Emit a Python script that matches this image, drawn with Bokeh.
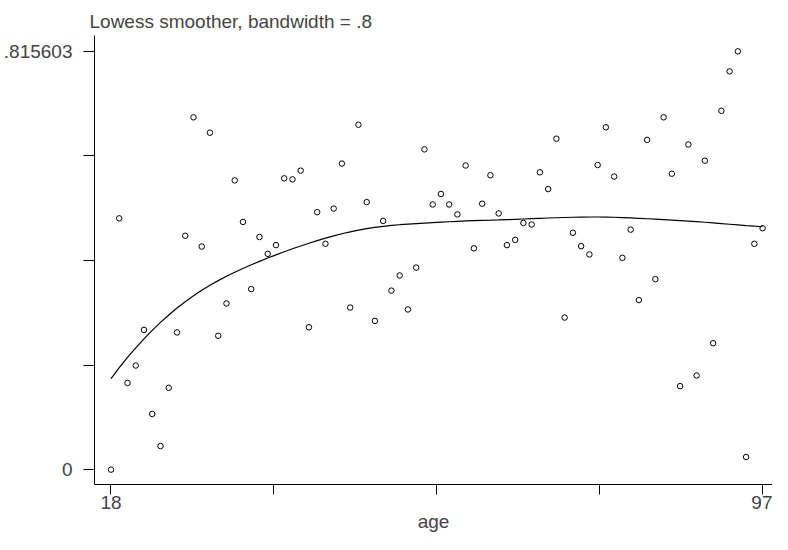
import numpy as np
from bokeh.plotting import figure
from bokeh.models import ColumnDataSource, FixedTicker, CustomJSTickFormatter, Range1d
from bokeh.embed import file_html
from bokeh.resources import INLINE

# ---- data ----
age = list(range(18, 98))
value = [
    0.000, 0.490, 0.169, 0.203, 0.2725, 0.1085, 0.046, 0.1596, 0.2675, 0.456,   # 18-27
    0.687, 0.435, 0.657, 0.261, 0.324, 0.564, 0.483, 0.352, 0.4536, 0.4207,     # 28-37
    0.4378, 0.568, 0.566, 0.583, 0.2776, 0.502, 0.4404, 0.509, 0.5968, 0.316,   # 38-47
    0.6725, 0.5217, 0.290, 0.485, 0.349, 0.3785, 0.3123, 0.394, 0.6245, 0.517,  # 48-57
    0.5375, 0.517, 0.4977, 0.593, 0.4315, 0.5185, 0.574, 0.4996, 0.4378, 0.448, # 58-67
    0.481, 0.478, 0.5797, 0.547, 0.6453, 0.2965, 0.4618, 0.4358, 0.4196, 0.594, # 68-77
    0.6675, 0.5715, 0.413, 0.468, 0.3306, 0.643, 0.3715, 0.687, 0.577, 0.1628,  # 78-87
    0.634, 0.1836, 0.6024, 0.2466, 0.6997, 0.7765, 0.815603, 0.0246, 0.4404, 0.4707,  # 88-97
]
Y_MAX = 0.815603
BANDWIDTH = 0.8
title_text = "Lowess smoother, bandwidth = .8"
x_label = "age"
x_ticks = [18, 37.75, 57.5, 77.25, 97]
x_tick_labels = ["18", "", "", "", "97"]
y_ticks = [0, Y_MAX / 4, Y_MAX / 2, 3 * Y_MAX / 4, Y_MAX]
y_tick_labels = ["0", "", "", "", ".815603"]


def lowess(x, y, bw):
    """Stata-style lowess (running-line, tricube weights, no robustness)."""
    x = np.asarray(x, float)
    y = np.asarray(y, float)
    n = len(x)
    k = int(np.floor((n * bw - 0.5) / 2))
    out = np.empty(n)
    for i in range(n):
        lo = max(0, i - k)
        hi = min(n - 1, i + k)
        xs = x[lo:hi + 1]
        ys = y[lo:hi + 1]
        delta = 1.0001 * max(x[hi] - x[i], x[i] - x[lo])
        w = (1 - (np.abs(xs - x[i]) / delta) ** 3) ** 3
        W = w.sum()
        xm = (w * xs).sum() / W
        ym = (w * ys).sum() / W
        b = (w * (xs - xm) * (ys - ym)).sum() / (w * (xs - xm) ** 2).sum()
        out[i] = ym + b * (x[i] - xm)
    return out


smooth = lowess(age, value, BANDWIDTH)

src = ColumnDataSource(dict(age=age, value=value, smooth=list(smooth)))

FONT = "Liberation Sans"

p = figure(
    width=772, height=534,
    output_backend="svg", toolbar_location=None,
    x_range=Range1d(16.0, 98.2),
    y_range=Range1d(-0.0290, 0.8465),
    min_border_left=94, min_border_right=0,
    min_border_top=35, min_border_bottom=50,
)
p.title.text = title_text
p.title.text_font = FONT
p.title.text_font_size = "19px"
p.title.text_font_style = "normal"
p.title.align = "left"
p.title.offset = -5
p.title.standoff = 7

p.xgrid.visible = False
p.ygrid.visible = False
p.outline_line_color = None
p.background_fill_color = "white"
p.border_fill_color = "white"

p.scatter("age", "value", source=src, marker="circle", size=5.5,
          fill_color="white", line_color="black", line_width=1)
p.line("age", "smooth", source=src, line_color="black", line_width=1.2)

xa = p.xaxis[0]
xa.ticker = FixedTicker(ticks=x_ticks)
xa.formatter = CustomJSTickFormatter(args=dict(labels=x_tick_labels), code="return labels[index];")
xa.axis_label = x_label
xa.axis_label_text_font = FONT
xa.axis_label_text_font_size = "19px"
xa.axis_label_text_font_style = "normal"
xa.axis_label_standoff = -1
xa.major_label_text_font = FONT
xa.major_label_text_font_size = "19px"
xa.major_label_standoff = 1
xa.major_tick_out = 10
xa.major_tick_in = 0
xa.minor_tick_out = 0
xa.minor_tick_in = 0
xa.axis_line_color = "black"
xa.major_tick_line_color = "black"

ya = p.yaxis[0]
ya.ticker = FixedTicker(ticks=y_ticks)
ya.formatter = CustomJSTickFormatter(args=dict(labels=y_tick_labels), code="return labels[index];")
ya.major_label_text_font = FONT
ya.major_label_text_font_size = "19px"
ya.major_label_standoff = 11
ya.major_label_orientation = "horizontal"
ya.major_tick_out = 11
ya.major_tick_in = 0
ya.minor_tick_out = 0
ya.minor_tick_in = 0
ya.axis_line_color = "black"
ya.major_tick_line_color = "black"

open("out.html", "w").write(file_html(p, INLINE))
